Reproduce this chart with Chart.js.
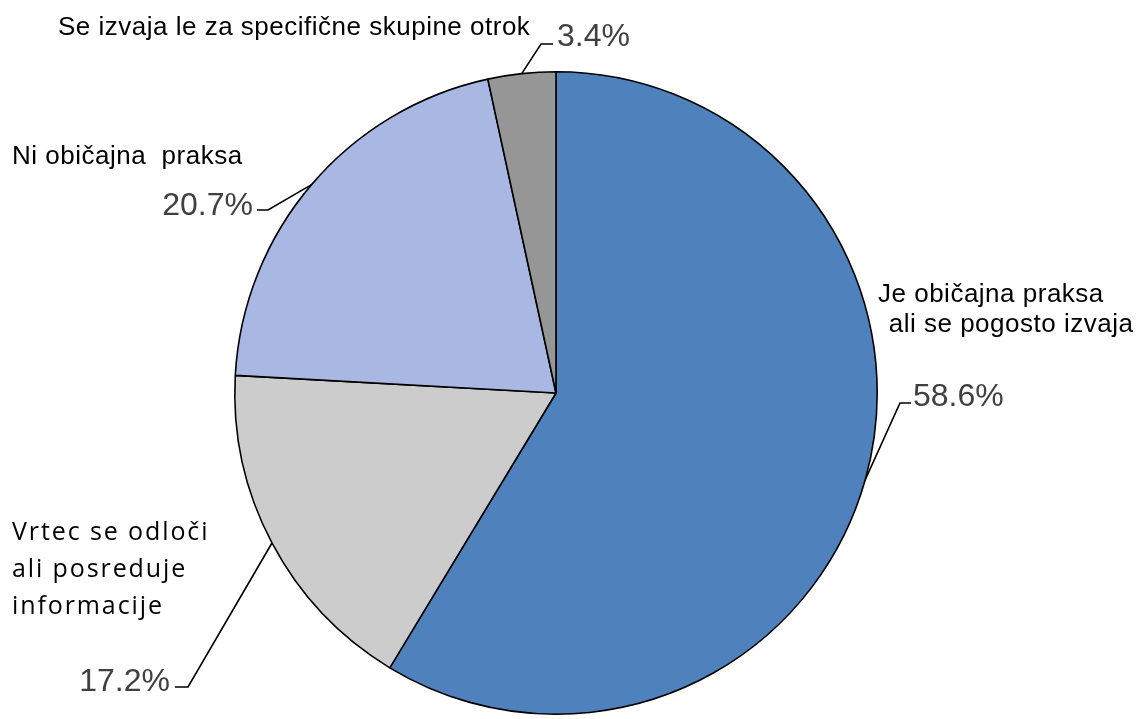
<!DOCTYPE html>
<html>
<head>
<meta charset="utf-8">
<script src="https://cdn.jsdelivr.net/npm/chart.js@4/dist/chart.umd.min.js"></script>
<style>
  body { margin: 0; background: #fff; }
  #wrap { width: 1140px; height: 719px; position: relative; }
</style>
</head>
<body>
<div id="wrap"><canvas id="myChart"></canvas></div>
<script>
// data, clockwise from the top
const categories = [
  ["Je običajna praksa", " ali se pogosto izvaja"],
  ["Vrtec se odloči", "ali posreduje", "informacije"],
  ["Ni običajna  praksa"],
  ["Se izvaja le za specifične skupine otrok"],
];
const shares = [58.6, 17.2, 20.7, 3.4];
const percentLabels = ["58.6%", "17.2%", "20.7%", "3.4%"];
const sliceColors = ["#4F81BD", "#CCCCCC", "#A9B8E3", "#969696"];

// where each label sits (elbow of leader line, text anchors)
const labelLayout = [
  { elbow: [900, 403], end: [911, 403], pct: [913, 406, "left"],
    name: [[878, 302], [881, 332]] },
  { elbow: [188, 687], end: [175, 687], pct: [170, 691, "right"],
    name: [[12, 540], [12, 577], [12, 614]], font: "25px 'Open Sans'", ls: "1.9px" },
  { elbow: [268, 210], end: [257, 210], pct: [253, 215, "right"],
    name: [[12, 164]] },
  { elbow: [541, 44], end: [553, 44], pct: [557, 46, "left"],
    name: [[58, 35]] },
];

const labelPlugin = {
  id: "leaderLabels",
  afterDatasetsDraw(chart) {
    const ctx = chart.ctx;
    const meta = chart.getDatasetMeta(0);
    meta.data.forEach((arc, i) => {
      const p = arc.getProps(["x", "y", "startAngle", "endAngle", "outerRadius"], true);
      const mid = (p.startAngle + p.endAngle) / 2;
      const sx = p.x + Math.cos(mid) * p.outerRadius;
      const sy = p.y + Math.sin(mid) * p.outerRadius;
      const L = labelLayout[i];
      ctx.save();
      ctx.strokeStyle = "#000";
      ctx.lineWidth = 1.6;
      ctx.beginPath();
      ctx.moveTo(sx, sy);
      ctx.lineTo(L.elbow[0], L.elbow[1]);
      ctx.lineTo(L.end[0], L.end[1]);
      ctx.stroke();

      ctx.fillStyle = "#404040";
      ctx.font = "32px 'Liberation Sans'";
      ctx.textAlign = L.pct[2];
      ctx.textBaseline = "alphabetic";
      ctx.fillText(percentLabels[i], L.pct[0], L.pct[1]);

      ctx.fillStyle = "#000";
      ctx.font = L.font || "26px 'Liberation Sans'";
      ctx.letterSpacing = L.ls || "0.5px";
      ctx.textAlign = "left";
      categories[i].forEach((line, j) => {
        ctx.fillText(line, L.name[j][0], L.name[j][1]);
      });
      ctx.restore();
    });
  },
};

const config = {
  type: "pie",
  data: {
    labels: categories.map((c) => c.join(" ")),
    datasets: [
      {
        data: shares,
        backgroundColor: sliceColors,
        borderColor: "#000",
        borderWidth: 1.6,
      },
    ],
  },
  options: {
    responsive: true,
    maintainAspectRatio: false,
    animation: false,
    layout: { padding: { left: 234, right: 262, top: 71, bottom: 4 } },
    plugins: {
      legend: { display: false },
      tooltip: { enabled: false },
    },
  },
  plugins: [labelPlugin],
};

const myChart = new Chart("myChart", config);
</script>
</body>
</html>
